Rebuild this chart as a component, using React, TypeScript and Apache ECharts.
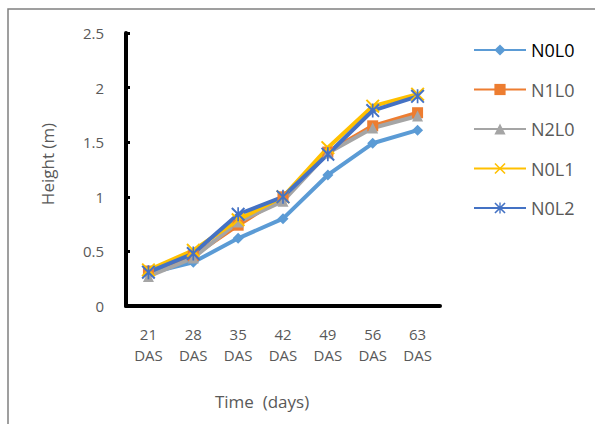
import React, { useEffect, useRef } from "react";
import * as echarts from "echarts";

const categories = ["21 DAS", "28 DAS", "35 DAS", "42 DAS", "49 DAS", "56 DAS", "63 DAS"];
const seriesNames = ["N0L0", "N1L0", "N2L0", "N0L1", "N0L2"];
const n0l0 = [0.3, 0.4, 0.62, 0.8, 1.2, 1.49, 1.61];
const n1l0 = [0.32, 0.46, 0.74, 1.0, 1.41, 1.65, 1.77];
const n2l0 = [0.27, 0.44, 0.77, 0.96, 1.4, 1.63, 1.74];
const n0l1 = [0.33, 0.51, 0.79, 1.0, 1.45, 1.83, 1.94];
const n0l2 = [0.31, 0.48, 0.84, 1.0, 1.39, 1.79, 1.92];
const yTicks = [0, 0.5, 1, 1.5, 2, 2.5];

const colors = ["#5B9BD5", "#ED7D31", "#A5A5A5", "#FFC000", "#4472C4"];
const xPath = "path://M0,1 L1,0 L5,4 L9,0 L10,1 L6,5 L10,9 L9,10 L5,6 L1,10 L0,9 L4,5 Z";
const starPath =
  "path://M0,1 L1,0 L4.4,3.4 L4.4,0 L5.6,0 L5.6,3.4 L9,0 L10,1 L6,5 L10,9 L9,10 L5.6,6.6 L5.6,10 L4.4,10 L4.4,6.6 L1,10 L0,9 L4,5 Z";
const symbols = ["diamond", "rect", "triangle", xPath, starPath];
const symbolSizes = [11, 11, 11, 14, 14];

export default function App() {
  const ref = useRef<HTMLDivElement>(null);
  useEffect(() => {
    if (!ref.current) return;
    const chart = echarts.init(ref.current, null, { renderer: "svg" });
    const data = [n0l0, n1l0, n2l0, n0l1, n0l2];
    chart.setOption({
      animation: false,
      textStyle: { fontFamily: "Open Sans" },
      graphic: [
        {
          type: "rect",
          shape: { x: 8, y: 9, width: 700, height: 600 },
          style: { fill: "none", stroke: "#808080", lineWidth: 1.5 },
          silent: true,
        },
      ],
      grid: { left: 126, right: 155, top: 33, bottom: 118 },
      legend: {
        orient: "vertical",
        left: 473,
        top: 41,
        padding: 0,
        itemWidth: 52,
        itemHeight: 14,
        itemGap: 21.5,
        textStyle: { fontSize: 18, color: "#595959", fontFamily: "Open Sans" },
        data: seriesNames.map((n, i) => ({
          name: n,
          textStyle: i === 0 ? { color: "#000000" } : { color: "#595959" },
        })),
      },
      xAxis: {
        type: "category",
        data: categories,
        boundaryGap: true,
        name: "Time  (days)",
        nameLocation: "middle",
        nameGap: 87,
        nameTextStyle: { fontSize: 17, color: "#595959", padding: [0, 42, 0, 0] },
        axisLine: { lineStyle: { color: "#000", width: 4 } },
        axisTick: { inside: true, length: 3, lineStyle: { color: "#000", width: 3 } },
        axisLabel: {
          color: "#595959",
          fontSize: 15,
          margin: 17,
          lineHeight: 21,
          formatter: (v: string) => v.replace(" ", "\n"),
        },
      },
      yAxis: {
        type: "value",
        min: 0,
        max: 2.5,
        interval: 0.5,
        name: "Height (m)",
        nameLocation: "middle",
        nameGap: 70,
        nameRotate: 90,
        nameTextStyle: { fontSize: 17, color: "#595959", padding: [0, 0, 0, 11] },
        axisLine: { show: true, lineStyle: { color: "#000", width: 4 } },
        axisTick: { show: true, inside: true, length: 4, lineStyle: { color: "#000", width: 3 } },
        splitLine: { show: false },
        axisLabel: {
          color: "#595959",
          fontSize: 15,
          margin: 22,
          formatter: (v: number) => (yTicks.includes(v) ? String(v) : ""),
        },
      },
      series: seriesNames.map((n, i) => ({
        name: n,
        type: "line",
        data: data[i],
        color: colors[i],
        symbol: symbols[i],
        symbolSize: symbolSizes[i],
        showAllSymbol: true,
        lineStyle: { width: 4, color: colors[i] },
        itemStyle: { color: colors[i] },
      })),
    });
    return () => chart.dispose();
  }, []);
  return (
    <div
      ref={ref}
      style={{ position: "fixed", left: 0, top: 0, width: 595, height: 424, background: "#fff" }}
    />
  );
}
